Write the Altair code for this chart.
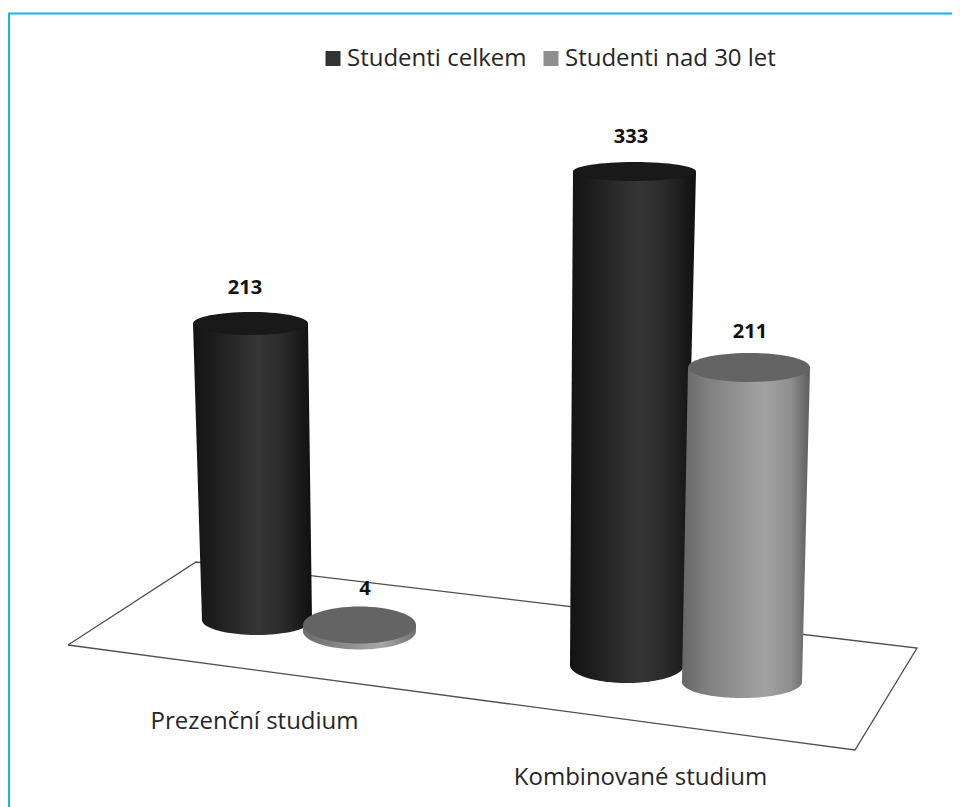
import math

import altair as alt
import pandas as pd

# chart values
groups = ["Prezenční studium", "Prezenční studium", "Kombinované studium", "Kombinované studium"]
series = ["Studenti celkem", "Studenti nad 30 let", "Studenti celkem", "Studenti nad 30 let"]
values = [213, 4, 333, 211]
value_labels = ["213", "4", "333", "211"]

# fake-3D projection (one entry per cylinder)
base_x = [257, 359.5, 627, 742]
base_y = [620, 631, 665, 682]
lean_x = [-6.5, 0, 7.5, 7]
base_rx = [55, 56.5, 57, 60]
top_rx = [57.5, 56.5, 61.5, 61]
base_ry = [15, 18.5, 18, 16]
top_ry = [11.5, 18.5, 9.5, 14.5]
depth = [1.392, 1.5, 1.482, 1.4905]

floor_x = [68, 196, 917, 855, 68]
floor_y = [645, 562, 648, 750, 645]

label_x = [245, 365, 631, 750]
label_y = [288, 589, 137, 332]
group_label_x = [254.5, 640.5]
group_label_y = [722, 778]
group_names = ["Prezenční studium", "Kombinované studium"]

X = alt.Scale(domain=[8, 952], nice=False, zero=False)
Y = alt.Scale(domain=[807, 8], nice=False, zero=False)
xe = lambda f: alt.X(f, type="quantitative", scale=X, axis=None)
ye = lambda f: alt.Y(f, type="quantitative", scale=Y, axis=None)


def grad(stops):
    return alt.Gradient(
        gradient="linear", x1=0, x2=1, y1=0, y2=0,
        stops=[alt.GradientStop(offset=o, color=c) for o, c in stops],
    )


DARK = grad([(0, "#131313"), (0.15, "#1c1c1c"), (0.55, "#363636"), (0.75, "#2b2b2b"), (1, "#101010")])
GREY = grad([(0, "#666666"), (0.2, "#808080"), (0.65, "#a3a3a3"), (0.85, "#8e8e8e"), (1, "#5c5c5c")])
RIM = grad([(0, "#6c6c6c"), (0.4, "#8e8e8e"), (0.7, "#a8a8a8"), (1, "#707070")])
TOP = {"Studenti celkem": "#191919", "Studenti nad 30 let": "#646464"}
K = 0.5523


def ellipse_path(a):
    k = K * a
    return (f"M-1,0 C-1,{-k} {-K},{-a} 0,{-a} C{K},{-a} 1,{-k} 1,0 "
            f"C1,{k} {K},{a} 0,{a} C{-K},{a} -1,{k} -1,0 Z")


def cylinder(i):
    fill = DARK if series[i] == "Studenti celkem" else GREY
    if values[i] < 10:
        fill = RIM
    y_top = base_y[i] - values[i] * depth[i]
    x_top = base_x[i] + lean_x[i]
    ys = [y_top, base_y[i]]
    ls = [x_top - top_rx[i], base_x[i] - base_rx[i]]
    rs = [x_top + top_rx[i], base_x[i] + base_rx[i]]
    # rounded underside of the cylinder, part of the same shape so the shading is continuous
    for step in range(1, 41):
        t = step / 40 * math.pi / 2
        half = base_rx[i] * math.cos(t)
        ys.append(base_y[i] + base_ry[i] * math.sin(t))
        ls.append(base_x[i] - half)
        rs.append(base_x[i] + half)
    body = pd.DataFrame({"y": ys, "l": ls, "r": rs})
    layers = [
        alt.Chart(body).mark_area(orient="horizontal", fill=fill, line=False, opacity=1).encode(
            y=ye("y"), x=xe("l"), x2=alt.X2("r")),
        alt.Chart(pd.DataFrame({"x": [x_top], "y": [y_top]})).mark_point(
            shape=ellipse_path(top_ry[i] / top_rx[i]), size=(2 * top_rx[i]) ** 2,
            filled=True, fill=TOP[series[i]], opacity=1, strokeWidth=0).encode(x=xe("x"), y=ye("y")),
    ]
    return layers


frame_color = "#16b5ea"
top_rule = alt.Chart(pd.DataFrame({"x": [8], "x2": [952], "y": [13.5]})).mark_rule(
    color=frame_color, strokeWidth=2).encode(x=xe("x"), x2=alt.X2("x2"), y=ye("y"))
left_rule = alt.Chart(pd.DataFrame({"x": [9], "y": [13.5], "y2": [807]})).mark_rule(
    color=frame_color, strokeWidth=2).encode(x=xe("x"), y=ye("y"), y2=alt.Y2("y2"))

floor = alt.Chart(pd.DataFrame({"x": floor_x, "y": floor_y, "i": range(len(floor_x))})).mark_line(
    color="#4f4f4f", strokeWidth=1.3, strokeJoin="miter").encode(
    x=xe("x"), y=ye("y"), order=alt.Order("i:Q"))

value_text = alt.Chart(pd.DataFrame({"x": label_x, "y": label_y, "t": value_labels})).mark_text(
    font="Open Sans", fontSize=20, fontWeight="bold", color="#111111").encode(
    x=xe("x"), y=ye("y"), text="t:N")

group_text = alt.Chart(pd.DataFrame({"x": group_label_x, "y": group_label_y, "t": group_names})).mark_text(
    font="Open Sans", fontSize=24, color="#262626").encode(
    x=xe("x"), y=ye("y"), text="t:N")

legend_layer = alt.Chart(pd.DataFrame({"s": ["Studenti celkem", "Studenti nad 30 let"], "x": [100, 100], "y": [100, 100]})).mark_point(
    shape="square", size=0, filled=True, opacity=0).encode(
    x=xe("x"), y=ye("y"),
    color=alt.Color("s:N", scale=alt.Scale(domain=["Studenti celkem", "Studenti nad 30 let"], range=["#333333", "#8f8f8f"]),
                    legend=alt.Legend(title=None, orient="none", legendX=313, legendY=38.5, direction="horizontal",
                                      columns=2, symbolType="square", symbolSize=225, symbolOpacity=1,
                                      symbolStrokeWidth=0, labelFont="Open Sans", labelFontSize=24,
                                      labelColor="#262626", labelOffset=2, columnPadding=12, labelLimit=400)),
)

layers = [top_rule, left_rule, floor]
for i in [0, 1, 2, 3]:
    layers += cylinder(i)
layers += [value_text, group_text, legend_layer]

chart = alt.layer(*layers).resolve_scale(x="shared", y="shared").properties(
    width=944, height=799, padding=0,
    autosize=alt.AutoSizeParams(type="none"), background="white",
).configure_view(stroke=None)

chart.save("out.html", embed_options={"renderer": "svg", "actions": False})
